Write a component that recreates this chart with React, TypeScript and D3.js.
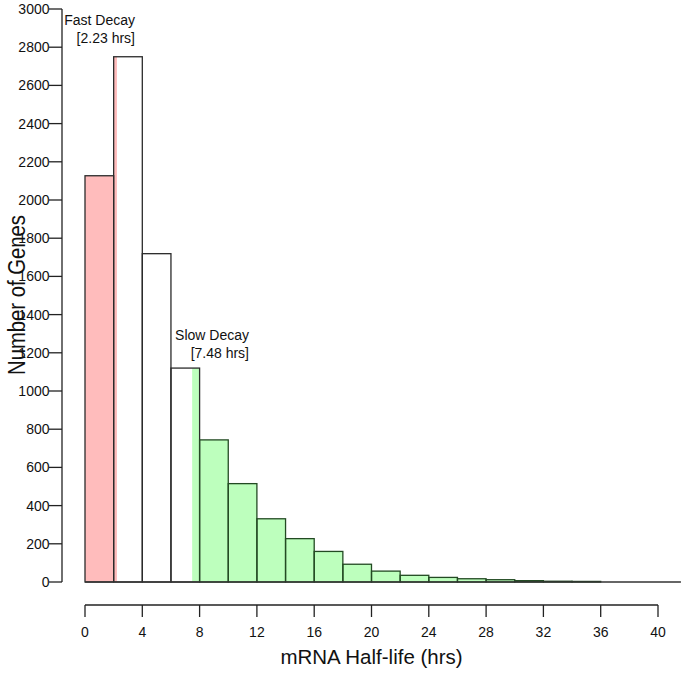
import * as d3 from "d3";

// histogram of mRNA half-lives, 2 h bins
const binEdges = [0, 2, 4, 6, 8, 10, 12, 14, 16, 18, 20, 22, 24, 26, 28, 30, 32, 34, 36, 38, 40, 42];
const geneCounts = [2127, 2750, 1719, 1120, 744, 515, 331, 227, 160, 93, 57, 35, 24, 17, 12, 7, 4, 3, 0, 0, 0];
const xTicks = [0, 4, 8, 12, 16, 20, 24, 28, 32, 36, 40];
const yTicks = [0, 200, 400, 600, 800, 1000, 1200, 1400, 1600, 1800, 2000, 2200, 2400, 2600, 2800, 3000];
const fastCut = 2.23;
const slowCut = 7.48;
const fastLabel = ["Fast Decay", "[2.23 hrs]"];
const slowLabel = ["Slow Decay", "[7.48 hrs]"];

const WIDTH = 686;
const HEIGHT = 674;
const PLOT = { left: 85, right: 658, top: 9, bottom: 582 };
const X_LIMIT = 41.6;
const PINK = "#ffbcbc";
const GREEN = "#bdffbd";
const FONT = "'Liberation Sans', Arial, Helvetica, sans-serif";

export default function App() {
  const x = d3.scaleLinear().domain([0, 40]).range([PLOT.left, PLOT.right]);
  const y = d3.scaleLinear().domain([0, 3000]).range([PLOT.bottom, PLOT.top]);

  const bins = geneCounts.map((count, i) => ({ x0: binEdges[i], x1: binEdges[i + 1], count }));
  const xAxisY = 605;
  const yAxisX = 62;

  return (
    <svg
      width={WIDTH}
      height={HEIGHT}
      style={{ position: "absolute", left: 0, top: 0, background: "#fff" }}
      fontFamily={FONT}
    >
      <defs>
        <clipPath id="plot-clip">
          <rect x={x(0) - 1} y={0} width={x(X_LIMIT) - x(0) + 1} height={HEIGHT} />
        </clipPath>
      </defs>

      <g clipPath="url(#plot-clip)">
        {/* fills */}
        {bins.map((b, i) => {
          const top = y(b.count);
          const h = y(0) - top;
          const pinkEnd = Math.min(b.x1, fastCut);
          const greenStart = Math.max(b.x0, slowCut);
          return (
            <g key={`f${i}`}>
              <rect x={x(b.x0)} y={top} width={x(b.x1) - x(b.x0)} height={h} fill="#fff" />
              {pinkEnd > b.x0 && (
                <rect x={x(b.x0)} y={top} width={x(pinkEnd) - x(b.x0)} height={h} fill={PINK} />
              )}
              {greenStart < b.x1 && (
                <rect x={x(greenStart)} y={top} width={x(b.x1) - x(greenStart)} height={h} fill={GREEN} />
              )}
            </g>
          );
        })}
        {/* outlines */}
        {bins.map((b, i) => (
          <rect
            key={`o${i}`}
            x={x(b.x0)}
            y={y(b.count)}
            width={x(b.x1) - x(b.x0)}
            height={y(0) - y(b.count)}
            fill="none"
            stroke={b.x0 >= 8 ? "#234a23" : "#2b2b2b"}
            strokeWidth={1.3}
          />
        ))}
        <line x1={x(0)} x2={x(X_LIMIT)} y1={y(0)} y2={y(0)} stroke="#333" strokeWidth={1.3} />
      </g>

      {/* y axis */}
      <g>
        <line x1={yAxisX} x2={yAxisX} y1={y(0)} y2={y(3000)} stroke="#222" strokeWidth={1.3} />
        {yTicks.map((t) => (
          <g key={t}>
            <line x1={yAxisX - 13} x2={yAxisX} y1={y(t)} y2={y(t)} stroke="#222" strokeWidth={1.3} />
            <text x={yAxisX - 12.5} y={y(t)} dy="0.36em" textAnchor="end" fontSize={14} fill="#111">
              {t}
            </text>
          </g>
        ))}
        <text
          transform={`translate(25,295) rotate(-90)`}
          textAnchor="middle"
          fontSize={23}
          textLength={160}
          lengthAdjust="spacingAndGlyphs"
          fill="#111"
        >
          Number of Genes
        </text>
      </g>

      {/* x axis */}
      <g>
        <line x1={x(0)} x2={x(40)} y1={xAxisY} y2={xAxisY} stroke="#222" strokeWidth={1.3} />
        {xTicks.map((t) => (
          <g key={t}>
            <line x1={x(t)} x2={x(t)} y1={xAxisY} y2={xAxisY + 12} stroke="#222" strokeWidth={1.3} />
            <text x={x(t)} y={xAxisY + 32} textAnchor="middle" fontSize={14} fill="#111">
              {t}
            </text>
          </g>
        ))}
        <text x={(x(0) + x(40)) / 2} y={664} textAnchor="middle" fontSize={20.5} fill="#111">
          mRNA Half-life (hrs)
        </text>
      </g>

      {/* annotations */}
      {fastLabel.map((s, i) => (
        <text key={s} x={x(3.49)} y={y(2916) + i * 18} textAnchor="end" fontSize={14} fill="#111">
          {s}
        </text>
      ))}
      {slowLabel.map((s, i) => (
        <text key={s} x={x(11.45)} y={y(1267) + i * 18} textAnchor="end" fontSize={14} fill="#111">
          {s}
        </text>
      ))}
    </svg>
  );
}
